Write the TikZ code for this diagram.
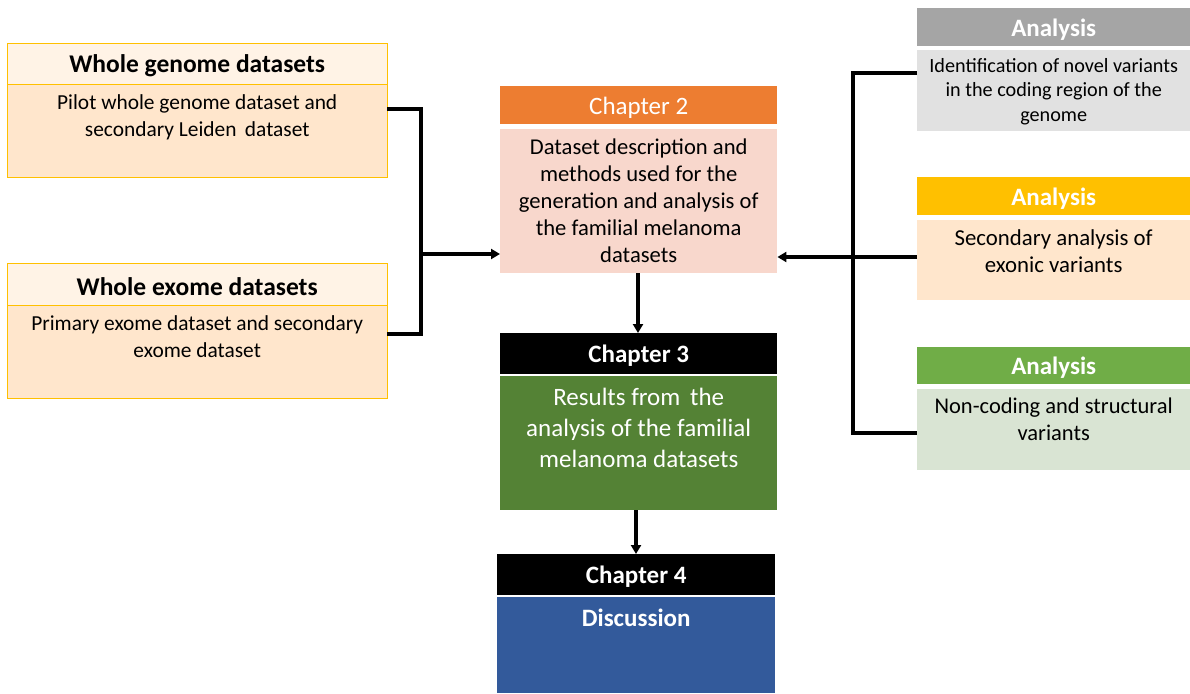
\documentclass[tikz,border=0pt]{standalone}
\usepackage{fontspec}
\setmainfont{Carlito}
\usetikzlibrary{arrows.meta}
\definecolor{ylw}{HTML}{FFC000}
\definecolor{lhead}{HTML}{FFF3E6}
\definecolor{lbody}{HTML}{FFE6CC}
\definecolor{orng}{HTML}{ED7D31}
\definecolor{chtwo}{HTML}{F8D7CC}
\definecolor{grn}{HTML}{548235}
\definecolor{blu}{HTML}{335A9B}
\definecolor{gryh}{HTML}{A5A5A5}
\definecolor{gryb}{HTML}{E1E1E1}
\definecolor{grnh}{HTML}{70AD47}
\definecolor{grnb}{HTML}{D9E4D3}
\tikzset{
  box/.style={rectangle, inner sep=0pt, anchor=north west},
  txt/.style={anchor=north, align=center, inner sep=0pt},
  hd/.style={text=white, font=\fontsize{25}{28}\selectfont\bfseries, yshift=-2},
  conn/.style={line width=3.2pt, black},
  arr/.style={conn, -{Triangle[length=9pt,width=10pt]}},
}
\begin{document}
\begin{tikzpicture}[x=1pt,y=-1pt]
\useasboundingbox (0,0) rectangle (1190,693);
% left boxes
\node[box, fill=lhead, draw=ylw, minimum width=380, minimum height=41] (wgh) at (7,43) {};
\node[box, fill=lbody, draw=ylw, minimum width=380, minimum height=93] (wg) at (7,84) {};
\node[font=\fontsize{25.5}{28}\selectfont\bfseries, yshift=-2] at (wgh.center) {Whole genome datasets};
\node[txt, font=\fontsize{21.4}{27}\selectfont] at ([yshift=-10]wg.north) {Pilot whole genome dataset and\\secondary Leiden\, dataset};
\node[box, fill=lhead, draw=ylw, minimum width=380, minimum height=42] (weh) at (7,263) {};
\node[box, fill=lbody, draw=ylw, minimum width=380, minimum height=93] (we) at (7,305) {};
\node[font=\fontsize{25.5}{28}\selectfont\bfseries, yshift=-2] at (weh.center) {Whole exome datasets};
\node[txt, font=\fontsize{21.4}{27}\selectfont] at ([yshift=-10]we.north) {Primary exome dataset and secondary\\exome dataset};
% chapter 2
\node[box, fill=orng, minimum width=277, minimum height=38] (c2h) at (500,86) {};
\node[text=white, font=\fontsize{25}{28}\selectfont, yshift=-3] at (c2h.center) {Chapter 2};
\node[box, fill=chtwo, minimum width=277, minimum height=144] (c2) at (500,129) {};
\node[txt, font=\fontsize{22.6}{27}\selectfont] at ([yshift=-10]c2.north) {Dataset description and\\methods used for the\\generation and analysis of\\the familial melanoma\\datasets};
% chapter 3
\node[box, fill=black, minimum width=277, minimum height=41] (c3h) at (500,333) {};
\node[hd] at (c3h.center) {Chapter 3};
\node[box, fill=grn, minimum width=277, minimum height=134] (c3) at (500,376) {};
\node[txt, text=white, font=\fontsize{25}{31}\selectfont] at ([yshift=-12]c3.north) {Results from\, the\\analysis of the familial\\melanoma datasets};
% chapter 4
\node[box, fill=black, minimum width=278, minimum height=41] (c4h) at (497,554) {};
\node[hd] at (c4h.center) {Chapter 4};
\node[box, fill=blu, minimum width=278, minimum height=96] (c4) at (497,597) {};
\node[txt, hd] at ([yshift=-10]c4.north) {Discussion};
% right boxes
\node[box, fill=gryh, minimum width=273, minimum height=38] (a1h) at (917,8) {};
\node[hd] at (a1h.center) {Analysis};
\node[box, fill=gryb, minimum width=273, minimum height=81] (a1) at (917,50) {};
\node[txt, font=\fontsize{20.2}{24.5}\selectfont] at ([yshift=-8]a1.north) {Identification of novel variants\\in the coding region of the\\genome};
\node[box, fill=ylw, minimum width=273, minimum height=38] (a2h) at (917,177) {};
\node[hd] at (a2h.center) {Analysis};
\node[box, fill=lbody, minimum width=273, minimum height=80] (a2) at (917,220) {};
\node[txt, font=\fontsize{22.8}{27.5}\selectfont] at ([yshift=-9]a2.north) {Secondary analysis of\\exonic variants};
\node[box, fill=grnh, minimum width=273, minimum height=37] (a3h) at (917,347) {};
\node[hd] at (a3h.center) {Analysis};
\node[box, fill=grnb, minimum width=273, minimum height=81] (a3) at (917,389) {};
\node[txt, font=\fontsize{22.5}{27}\selectfont] at ([yshift=-9]a3.north) {Non-coding and structural\\variants};
% connectors left
\coordinate (lj) at (421,254);
\draw[conn] (wg.east |- 0,109) -| (lj) |- (we.east |- 0,334);
\draw[arr] (lj) -- (c2.west |- lj);
% right
\coordinate (rj) at (853,257);
\draw[conn] (a1.west |- 0,73) -| (rj) |- (a3.west |- 0,433);
\draw[conn] (a2.west |- rj) -- (rj);
\draw[arr] (rj) -- (c2.east |- rj);
% vertical
\draw[arr] (638,273) -- (c3h.north -| 638,0);
\draw[arr] (636,510) -- (c4h.north -| 636,0);
\end{tikzpicture}
\end{document}
